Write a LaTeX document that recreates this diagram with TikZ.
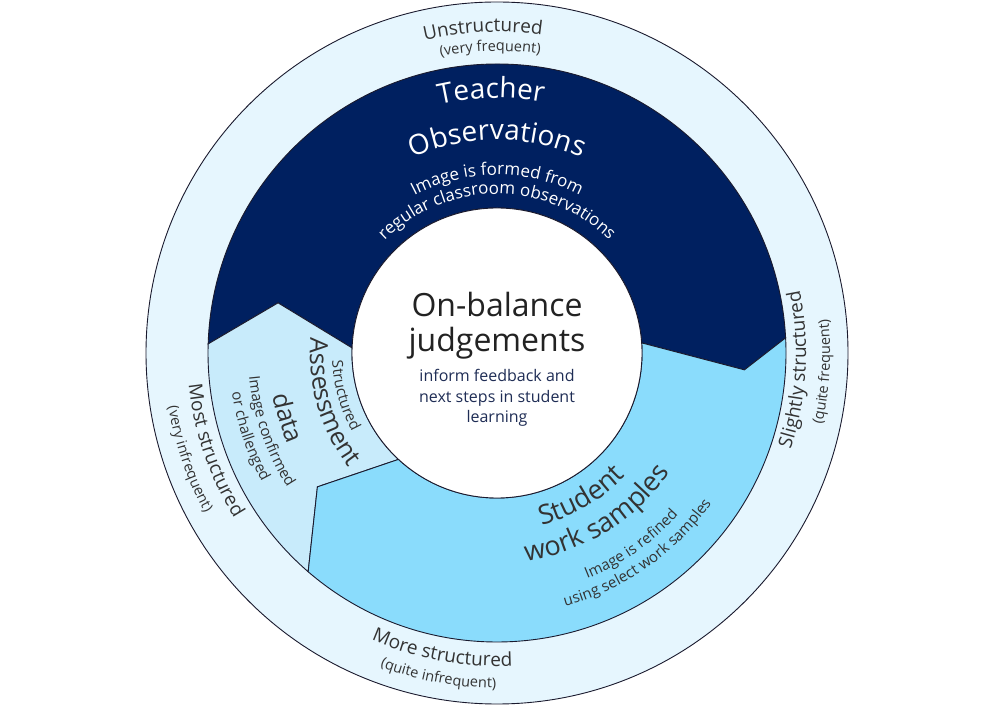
\documentclass[tikz,border=0pt]{standalone}
\usepackage{fontspec}
\setmainfont{Open Sans}
\usetikzlibrary{decorations.text}
\definecolor{navy}{HTML}{002060}
\definecolor{paleblue}{HTML}{E6F6FE}
\definecolor{assessblue}{HTML}{C8EBFB}
\definecolor{workblue}{HTML}{8ADCFC}
\definecolor{edge}{HTML}{1A1A2E}
\definecolor{labelgray}{HTML}{333333}
\definecolor{centretext}{HTML}{222222}
\definecolor{subtext}{HTML}{1F2D55}
\newcommand\fsz[1]{\fontsize{#1}{#1}\selectfont}

\begin{document}
\begin{tikzpicture}[x=1pt, y=1pt,
  ring/.style={draw=edge, line width=0.9pt},
  arctext/.style n args={3}{decorate, decoration={text along path,
      text align=center, text color=#1, text={|#2|#3}}},
  title/.style={anchor=base, text=centretext, font=\fsz{32}},
  sub/.style={anchor=base, text=subtext, font=\fsz{16}}
]
\useasboundingbox (0,0) rectangle (990,720);
\begin{scope}[shift={(497,367)}]
% Outer ring
\draw[ring, fill=paleblue] (0,0) circle[radius=351];
% Teacher observations
\draw[ring, fill=navy] (3:289) arc[start angle=3, end angle=178.2, radius=289]
      -- (167.1:224.6) -- (178:145) arc[start angle=178, end angle=4, radius=145]
      -- (-3.9:248) -- cycle;
% Assessment data
\draw[ring, fill=assessblue] (178.2:289) arc[start angle=178.2, end angle=229.2, radius=289]
      -- (216.7:224) -- (227.2:145) arc[start angle=227.2, end angle=178, radius=145]
      -- (167.1:224.6) -- cycle;
% Student work samples
\draw[ring, fill=workblue] (229.2:289) arc[start angle=229.2, end angle=363, radius=289]
      -- (-3.9:248) -- (4:145) arc[start angle=364, end angle=227.2, radius=145]
      -- (216.7:224) -- cycle;
% Centre
\draw[ring, fill=white] (0,0) circle[radius=145];

% Top labels (clockwise arcs)
\path[arctext={labelgray}{\fsz{19}}{Unstructured}]
      (152.5:321) arc[start angle=152.5, end angle=32.5, radius=321];
\path[arctext={labelgray}{\fsz{14.5}}{(very frequent)}]
      (151.3:302) arc[start angle=151.3, end angle=31.3, radius=302];
\path[arctext={white}{\fsz{28}}{Teacher}]
      (151.3:255) arc[start angle=151.3, end angle=31.3, radius=255];
\path[arctext={white}{\fsz{28}}{Observations}]
      (150:213) arc[start angle=150, end angle=30, radius=213];
\path[arctext={white}{\fsz{17}}{Image is formed from}]
      (150:178) arc[start angle=150, end angle=30, radius=178];
\path[arctext={white}{\fsz{17}}{regular classroom observations}]
      (150:159) arc[start angle=150, end angle=30, radius=159];

% Side and bottom labels (anticlockwise arcs)
\path[arctext={labelgray}{\fsz{19}}{Slightly structured}]
      (-63.2:309) arc[start angle=-63.2, end angle=56.8, radius=309];
\path[arctext={labelgray}{\fsz{14.5}}{(quite frequent)}]
      (-63.3:333) arc[start angle=-63.3, end angle=56.7, radius=333];
\path[arctext={labelgray}{\fsz{19}}{More structured}]
      (199.6:313) arc[start angle=199.6, end angle=319.6, radius=313];
\path[arctext={labelgray}{\fsz{14.5}}{(quite infrequent)}]
      (199.7:335) arc[start angle=199.7, end angle=319.7, radius=335];
\path[arctext={labelgray}{\fsz{19}}{Most structured}]
      (139:310) arc[start angle=139, end angle=259, radius=310];
\path[arctext={labelgray}{\fsz{14.5}}{(very infrequent)}]
      (139:333) arc[start angle=139, end angle=259, radius=333];

% Assessment data labels
\path[arctext={labelgray}{\fsz{15}}{Structured}]
      (135.6:165) arc[start angle=135.6, end angle=255.6, radius=165];
\path[arctext={labelgray}{\fsz{25}}{Assessment}]
      (136.5:187) arc[start angle=136.5, end angle=256.5, radius=187];
\path[arctext={labelgray}{\fsz{25}}{data}]
      (137.2:228) arc[start angle=137.2, end angle=257.2, radius=228];
\path[arctext={labelgray}{\fsz{15}}{Image confirmed}]
      (139:249) arc[start angle=139, end angle=259, radius=249];
\path[arctext={labelgray}{\fsz{15}}{or challenged}]
      (138.6:268) arc[start angle=138.6, end angle=258.6, radius=268];

% Student work samples labels
\path[arctext={labelgray}{\fsz{27}}{Student}]
      (-119.6:178) arc[start angle=-119.6, end angle=0.4, radius=178];
\path[arctext={labelgray}{\fsz{27}}{work samples}]
      (-118.3:210) arc[start angle=-118.3, end angle=1.7, radius=210];
\path[arctext={labelgray}{\fsz{15}}{Image is refined}]
      (-115:243) arc[start angle=-115, end angle=5, radius=243];
\path[arctext={labelgray}{\fsz{15}}{using select work samples}]
      (-115:262) arc[start angle=-115, end angle=5, radius=262];

% Centre text
\node[title] (onbal) at (0,36) {On-balance};
\node[title] (judge) at (0,1) {judgements};
\node[sub] (inform) at (0,-29) {inform feedback and};
\node[sub] (steps)  at (0,-50) {next steps in student};
\node[sub] (learn)  at (0,-70) {learning};
\end{scope}
\end{tikzpicture}
\end{document}
